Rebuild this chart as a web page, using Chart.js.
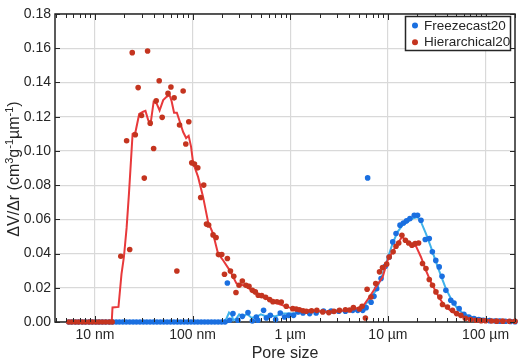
<!DOCTYPE html>
<html>
<head>
<meta charset="utf-8">
<title>Pore size distribution</title>
<script src="https://cdn.jsdelivr.net/npm/chart.js@4.4.1/dist/chart.umd.min.js"></script>
<style>
  html, body { margin: 0; padding: 0; background: #fff; }
  #wrap { width: 519px; height: 363px; }
</style>
</head>
<body>
<div id="wrap"><canvas id="poreChart" width="519" height="363"></canvas></div>
<script>
// pore size in µm, dV/dr in cm3 g-1 µm-1

// Freezecast20 - measured points
const freezeX = [0.0054, 0.0058, 0.0063, 0.0068, 0.0074, 0.0080, 0.0087, 0.0094, 0.0102, 0.0110,
  0.0119, 0.0129, 0.0140, 0.0152, 0.0165, 0.0178, 0.0193, 0.0209, 0.0227, 0.0246,
  0.0266, 0.0289, 0.0313, 0.0339, 0.0367, 0.0398, 0.0431, 0.0467, 0.0506, 0.0548,
  0.0594, 0.0644, 0.0698, 0.0756, 0.0819, 0.0888, 0.0962, 0.1042, 0.1129, 0.1224,
  0.1326, 0.1437, 0.1557, 0.1687, 0.1828, 0.1981, 0.2146,
  0.227, 0.240, 0.259, 0.291, 0.323, 0.369, 0.409, 0.449, 0.466, 0.533,
  0.569, 0.625, 0.708, 0.790, 0.874, 0.967, 1.08, 1.20, 1.35, 1.58,
  1.84, 2.19, 2.62, 3.14, 3.67, 4.36, 4.91, 5.52, 5.98, 6.20,
  6.72, 7.20, 7.67, 8.50, 9.40, 10.3, 11.2, 12.1, 13.3, 14.4,
  15.5, 16.8, 18.6, 20.1, 21.8, 24.1, 26.5, 28.5, 30.9, 33.5,
  35.8, 39.2, 44.0, 47.5, 53.6, 60.0, 67.5, 76, 85, 95,
  110, 125, 140, 160, 180, 200];
const freezeY = [0, 0, 0, 0, 0, 0, 0, 0, 0, 0,
  0, 0, 0, 0, 0, 0, 0, 0, 0, 0,
  0, 0, 0, 0, 0, 0, 0, 0, 0, 0,
  0, 0, 0, 0, 0, 0, 0, 0, 0, 0,
  0, 0, 0, 0, 0, 0, 0,
  0.0228, 0.0010, 0.0049, 0.0010, 0.0033, 0.0055, 0.0006, 0.0029, 0.0010, 0.0068,
  0.0023, 0.0039, 0.0014, 0.0053, 0.0029, 0.0039, 0.0039, 0.0059, 0.0053, 0.0049,
  0.0053, 0.0064, 0.0064, 0.0063, 0.0063, 0.0068, 0.0068, 0.0068, 0.0084, 0.0842,
  0.0115, 0.0150, 0.0195, 0.0254, 0.0326, 0.0380, 0.0468, 0.0517, 0.0566, 0.0579,
  0.0591, 0.0605, 0.0624, 0.0624, 0.0595, 0.0482, 0.0488, 0.0410, 0.0360, 0.0322,
  0.0267, 0.0185, 0.0127, 0.0111, 0.0078, 0.0045, 0.0029, 0.0020, 0.0015, 0.0010,
  0.0008, 0.0006, 0.0005, 0.0004, 0.0003, 0.0002];

// Freezecast20 - smoothed curve
const freezeFitX = [0.0054, 0.205, 0.222, 0.236, 0.250, 0.262, 0.280, 0.300, 0.330, 0.360,
  0.400, 0.450, 0.500, 0.550, 0.620, 0.700, 0.840, 1.06, 1.35, 1.84,
  2.52, 3.45, 4.72, 5.52, 6.46, 7.56, 8.83, 9.93, 11.17, 12.56,
  14.1, 15.9, 17.8, 20.1, 21.8, 24.5, 27.5, 31.0, 34.8, 39.2,
  44.1, 49.5, 57.8, 67.8, 85.8, 108.6, 200];
const freezeFitY = [0, 0, 0.0020, 0.0055, 0.0040, 0.0010, 0.0020, 0.0045, 0.0030, 0.0048,
  0.0025, 0.0030, 0.0045, 0.0035, 0.0040, 0.0032, 0.0050, 0.0049, 0.0057, 0.0059,
  0.0063, 0.0064, 0.0072, 0.0084, 0.0130, 0.0185, 0.0280, 0.0371, 0.0459, 0.0527,
  0.0566, 0.0585, 0.0605, 0.0614, 0.0585, 0.0517, 0.0439, 0.0351, 0.0273, 0.0195,
  0.0137, 0.0092, 0.0053, 0.0033, 0.0020, 0.0014, 0.0010];

// Hierarchical20 - measured points
const hierX = [0.0054, 0.0058, 0.0063, 0.0068, 0.0074, 0.0080, 0.0087, 0.0094, 0.0102, 0.0110,
  0.0119, 0.0129, 0.0140, 0.0150,
  0.0184, 0.0211, 0.0227, 0.0241, 0.0259, 0.0277, 0.0300, 0.0320, 0.0346, 0.0368,
  0.0399, 0.0424, 0.0455, 0.0488, 0.0560, 0.0600, 0.0647, 0.0690, 0.0735, 0.0800,
  0.0852, 0.0914, 0.0980, 0.1045, 0.1130, 0.1210, 0.1300, 0.1387, 0.1460, 0.1620,
  0.1740, 0.1840, 0.1990, 0.2120, 0.2270, 0.2440, 0.2640, 0.2780, 0.2990, 0.3230,
  0.3520, 0.3780, 0.4090, 0.4390, 0.4700, 0.5100, 0.5600, 0.6150, 0.6640, 0.7300,
  0.8090, 0.9100, 1.060, 1.150, 1.240, 1.350, 1.460, 1.650, 1.870, 2.150,
  2.480, 2.800, 3.190, 3.670, 4.050, 4.430, 5.100, 5.440, 5.880, 6.120,
  6.700, 7.500, 8.200, 8.800, 9.700, 10.30, 11.30, 12.10, 12.90, 13.90,
  15.10, 16.30, 17.60, 19.00, 20.60, 22.60, 24.50, 26.50, 28.60, 31.00,
  34.00, 36.20, 40.70, 45.80, 50.50, 55.80, 62.00, 70.00, 80.00, 90.00,
  100.0, 115.0, 130.0, 150.0, 175.0, 200.0];
const hierY = [0, 0, 0, 0, 0, 0, 0, 0, 0, 0,
  0, 0, 0, 0,
  0.0384, 0.1059, 0.0424, 0.1574, 0.1094, 0.1370, 0.1207, 0.0841, 0.1584, 0.1162,
  0.1014, 0.1293, 0.1410, 0.1196, 0.1336, 0.1373, 0.1310, 0.0298, 0.1151, 0.1350,
  0.1040, 0.1170, 0.0930, 0.0923, 0.0901, 0.0728, 0.0800, 0.0572, 0.0567, 0.0509,
  0.0494, 0.0394, 0.0394, 0.0279, 0.0371, 0.0298, 0.0267, 0.0172, 0.0215, 0.0240,
  0.0215, 0.0209, 0.0185, 0.0176, 0.0156, 0.0154, 0.0144, 0.0131, 0.0119, 0.0118,
  0.0117, 0.0092, 0.0078, 0.0076, 0.0072, 0.0066, 0.0063, 0.0066, 0.0068, 0.0059,
  0.0055, 0.0062, 0.0068, 0.0072, 0.0070, 0.0084, 0.0076, 0.0092, 0.0023, 0.0191,
  0.0146, 0.0225, 0.0293, 0.0318, 0.0338, 0.0380, 0.0410, 0.0443, 0.0462, 0.0507,
  0.0478, 0.0462, 0.0449, 0.0459, 0.0462, 0.0342, 0.0312, 0.0248, 0.0215, 0.0176,
  0.0146, 0.0102, 0.0088, 0.0068, 0.0049, 0.0039, 0.0022, 0.0015, 0.0010, 0.0008,
  0.0007, 0.0006, 0.0005, 0.0005, 0.0004, 0.0004];

// Hierarchical20 - smoothed curve
const hierFitX = [0.0054, 0.01485, 0.01513, 0.01742, 0.0187, 0.0198, 0.0211, 0.0223, 0.0234, 0.0243,
  0.0260, 0.0284, 0.0312, 0.0329, 0.0351, 0.0371, 0.0399, 0.0429, 0.0459, 0.0500,
  0.0541, 0.0581, 0.0609, 0.0646, 0.0690, 0.0740, 0.0800, 0.0859, 0.0911, 0.0964,
  0.1012, 0.1138, 0.1280, 0.1440, 0.1619, 0.182, 0.205, 0.240, 0.281, 0.328,
  0.384, 0.449, 0.521, 0.615, 0.778, 0.984, 1.245, 1.574, 1.992, 2.52,
  3.19, 4.03, 5.10, 5.74, 6.46, 7.56, 8.83, 9.93, 11.17, 12.56,
  13.93, 15.31, 17.2, 19.37, 21.78, 24.5, 27.5, 31.0, 34.8, 39.2,
  45.8, 53.6, 67.8, 85.8, 108.6, 200];
const hierFitY = [0, 0, 0.0085, 0.0088, 0.0280, 0.0380, 0.0550, 0.0750, 0.0946, 0.1100,
  0.1110, 0.1216, 0.1229, 0.1234, 0.1180, 0.1158, 0.1287, 0.1276, 0.1236, 0.1297,
  0.1316, 0.1326, 0.1292, 0.1223, 0.1223, 0.1170, 0.1110, 0.1075, 0.1088, 0.1025,
  0.0930, 0.0848, 0.0731, 0.0585, 0.0517, 0.0400, 0.0361, 0.0302, 0.0225, 0.0215,
  0.0193, 0.0166, 0.0150, 0.0127, 0.0104, 0.0084, 0.0072, 0.0068, 0.0063, 0.0059,
  0.0064, 0.0072, 0.0084, 0.0104, 0.0146, 0.0205, 0.0263, 0.0361, 0.0410, 0.0459,
  0.0497, 0.0478, 0.0449, 0.0443, 0.0380, 0.0302, 0.0234, 0.0176, 0.0127, 0.0088,
  0.0059, 0.0039, 0.0020, 0.0014, 0.0010, 0.0008];

const xTickValues = [0.01, 0.1, 1, 10, 100];
const xTickLabels = ['10 nm', '100 nm', '1 µm', '10 µm', '100 µm'];
const yTickValues = [0, 0.02, 0.04, 0.06, 0.08, 0.10, 0.12, 0.14, 0.16, 0.18];
const yTitleParts = [['ΔV/Δr (cm', 0], ['3', 1], ['g', 0], ['-1', 1], ['µm', 0], ['-1', 1], [')', 0]];

const FONT = '"Liberation Sans", Arial, Helvetica, sans-serif';
const INK = '#262626';

function pts(xs, ys) {
  return xs.map((x, i) => ({x: x, y: ys[i]}));
}

// box around the axes, drawn under the data
const axesBox = {
  id: 'axesBox',
  beforeDatasetsDraw(chart) {
    const {ctx, chartArea: a} = chart;
    ctx.save();
    ctx.strokeStyle = INK;
    ctx.lineWidth = 1.5;
    ctx.strokeRect(a.left, a.top, a.right - a.left, a.bottom - a.top);
    ctx.restore();
  }
};

// inward tick marks like matlab
const innerTicks = {
  id: 'innerTicks',
  afterDatasetsDraw(chart) {
    const {ctx, chartArea: a, scales: {x, y}} = chart;
    ctx.save();
    ctx.strokeStyle = INK;
    ctx.lineWidth = 1;
    ctx.beginPath();
    for (let d = -3; d <= 2; d++) {
      for (let m = 1; m <= 9; m++) {
        const v = m * Math.pow(10, d);
        if (v < x.min || v > x.max) continue;
        const px = Math.round(x.getPixelForValue(v)) + 0.5;
        const len = m === 1 ? 6 : 4;
        ctx.moveTo(px, a.bottom); ctx.lineTo(px, a.bottom - len);
        ctx.moveTo(px, a.top); ctx.lineTo(px, a.top + len);
      }
    }
    yTickValues.forEach(v => {
      const py = Math.round(y.getPixelForValue(v)) + 0.5;
      ctx.moveTo(a.left, py); ctx.lineTo(a.left + 5, py);
      ctx.moveTo(a.right, py); ctx.lineTo(a.right - 5, py);
    });
    ctx.stroke();
    ctx.restore();
  }
};

// y title with real superscripts
const yTitle = {
  id: 'yTitle',
  afterDraw(chart) {
    const {ctx, chartArea: a} = chart;
    const big = '16px ' + FONT, small = '11px ' + FONT;
    ctx.save();
    ctx.translate(19, (a.top + a.bottom) / 2 + 1);
    ctx.rotate(-Math.PI / 2);
    ctx.fillStyle = INK;
    ctx.textBaseline = 'alphabetic';
    ctx.textAlign = 'left';
    let total = 0;
    yTitleParts.forEach(p => { ctx.font = p[1] ? small : big; total += ctx.measureText(p[0]).width; });
    let cx = -total / 2;
    yTitleParts.forEach(p => {
      ctx.font = p[1] ? small : big;
      ctx.fillText(p[0], cx, p[1] ? -6.5 : 0);
      cx += ctx.measureText(p[0]).width;
    });
    ctx.restore();
  }
};

// legend box in the upper right corner
const boxLegend = {
  id: 'boxLegend',
  afterDraw(chart) {
    const {ctx, chartArea: a} = chart;
    const items = chart.data.datasets.filter(d => d.inLegend);
    const w = 105, h = 34;
    const bx = a.right - 5 - w + 0.5, by = a.top + 2.5;
    ctx.save();
    ctx.fillStyle = '#fff';
    ctx.fillRect(bx, by, w, h);
    ctx.strokeStyle = INK;
    ctx.lineWidth = 1.5;
    ctx.strokeRect(bx, by, w, h);
    ctx.font = '13.5px ' + FONT;
    ctx.textBaseline = 'middle';
    items.forEach((d, i) => {
      const yy = by + 9 + i * 16.7;
      ctx.fillStyle = d.backgroundColor;
      ctx.beginPath();
      ctx.arc(bx + 9.5, yy, 3, 0, Math.PI * 2);
      ctx.fill();
      ctx.fillStyle = INK;
      ctx.fillText(d.label, bx + 18.5, yy + 0.5);
    });
    ctx.restore();
  }
};

const ctx = document.getElementById('poreChart').getContext('2d');

// dataset list order = legend order, "order" = stacking (lowest on top)
const poreChart = new Chart(ctx, {
  type: 'scatter',
  data: {
    datasets: [
      {
        label: 'Freezecast20',
        inLegend: true,
        data: pts(freezeX, freezeY),
        backgroundColor: '#1a6fe0',
        borderWidth: 0,
        pointRadius: 2.8,
        clip: false,
        order: 2
      },
      {
        label: 'Freezecast20 fit',
        data: pts(freezeFitX, freezeFitY),
        showLine: true,
        borderColor: '#3fb2ea',
        borderWidth: 2,
        pointRadius: 0,
        tension: 0,
        clip: false,
        order: 3
      },
      {
        label: 'Hierarchical20',
        inLegend: true,
        data: pts(hierX, hierY),
        backgroundColor: '#c4341f',
        borderWidth: 0,
        pointRadius: 2.8,
        clip: false,
        order: 0
      },
      {
        label: 'Hierarchical20 fit',
        data: pts(hierFitX, hierFitY),
        showLine: true,
        borderColor: '#e8393b',
        borderWidth: 2,
        pointRadius: 0,
        tension: 0,
        clip: false,
        order: 1
      }
    ]
  },
  options: {
    responsive: false,
    animation: false,
    layout: {padding: {top: 14, right: 3, left: 0, bottom: 0}},
    plugins: {
      legend: {display: false},
      tooltip: {enabled: false}
    },
    scales: {
      x: {
        type: 'logarithmic',
        min: 0.0039,
        max: 200,
        afterBuildTicks: s => { s.ticks = xTickValues.map(v => ({value: v})); },
        afterFit: s => { s.height = 41; },
        ticks: {
          autoSkip: false,
          maxRotation: 0,
          padding: 5,
          color: INK,
          font: {family: FONT, size: 14},
          callback: v => xTickLabels[xTickValues.indexOf(v)]
        },
        grid: {color: '#d9d9d9', lineWidth: 1.2, drawTicks: false},
        border: {display: false},
        title: {
          display: true,
          text: 'Pore size',
          color: INK,
          font: {family: FONT, size: 16},
          padding: {top: 0, bottom: 0}
        }
      },
      y: {
        min: 0,
        max: 0.18,
        afterBuildTicks: s => { s.ticks = yTickValues.map(v => ({value: v})); },
        afterFit: s => { s.width = 55; },
        ticks: {
          padding: 4,
          color: INK,
          font: {family: FONT, size: 14},
          callback: v => v.toFixed(2)
        },
        grid: {color: '#d9d9d9', lineWidth: 1.2, drawTicks: false},
        border: {display: false}
      }
    }
  },
  plugins: [axesBox, innerTicks, yTitle, boxLegend]
});
</script>
</body>
</html>
